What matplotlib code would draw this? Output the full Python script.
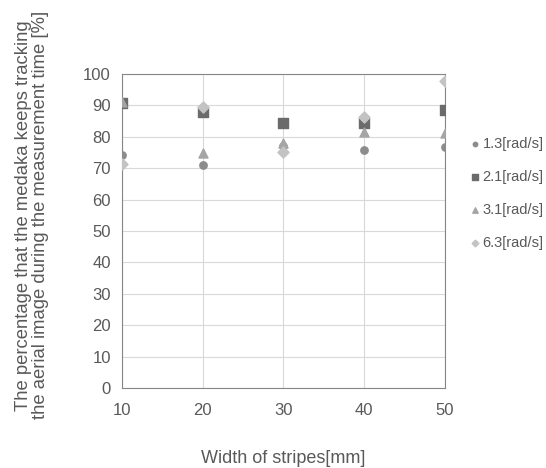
import numpy as np
import matplotlib.pyplot as plt

plt.rcParams['font.family'] = ['Liberation Sans', 'DejaVu Sans']

# data
widths = [10, 20, 30, 40, 50]
s13 = [74.2, 71.0, 77.0, 75.8, 76.7]
s21 = [90.7, 88.0, 84.3, 84.3, 88.5]
s31 = [91.0, 74.9, 78.1, 81.4, 81.1]
s63 = [71.2, 89.6, 75.3, 86.4, 97.9]
labels = ['1.3[rad/s]', '2.1[rad/s]', '3.1[rad/s]', '6.3[rad/s]']

txt = '#595959'
fig = plt.figure(figsize=(5.46, 4.68), dpi=100)
ax = fig.add_axes([0.2234, 0.171, 0.5916, 0.671])

ax.scatter(widths, s13, marker='o', s=28, color='#8c8c8c', label=labels[0], zorder=3)
ax.scatter(widths, s21, marker='s', s=42, color='#6b6b6b', label=labels[1], zorder=3)
ax.scatter(widths, s31, marker='^', s=42, color='#a5a5a5', label=labels[2], zorder=3)
ax.scatter(widths, s63, marker='D', s=32, color='#c3c3c3', label=labels[3], zorder=3)

ax.set_xlim(10, 50)
ax.set_ylim(0, 100)
ax.set_xticks([10, 20, 30, 40, 50])
ax.set_yticks(np.arange(0, 101, 10))
ax.grid(True, color='#d9d9d9', linewidth=0.8)
ax.set_axisbelow(True)
for sp in ax.spines.values():
    sp.set_color('#868686')
ax.tick_params(length=0, labelsize=12, colors=txt)
ax.tick_params(axis='x', pad=11)
ax.tick_params(axis='y', pad=8)

ax.set_xlabel('Width of stripes[mm]', fontsize=13, color=txt)
ax.xaxis.set_label_coords(0.5, -0.198)
ax.set_ylabel('The percentage that the medaka keeps tracking\nthe aerial image during the measurement time [%]',
              fontsize=13.3, color=txt, linespacing=1.0)
ax.yaxis.set_label_coords(-0.225, 0.55)

ax.legend(loc='center left', bbox_to_anchor=(1.03, 0.62), frameon=False,
          fontsize=10.5, labelcolor=txt, handletextpad=0.0, labelspacing=1.3,
          markerscale=0.6, handlelength=1.0)

fig.savefig('out.png', dpi=100)
